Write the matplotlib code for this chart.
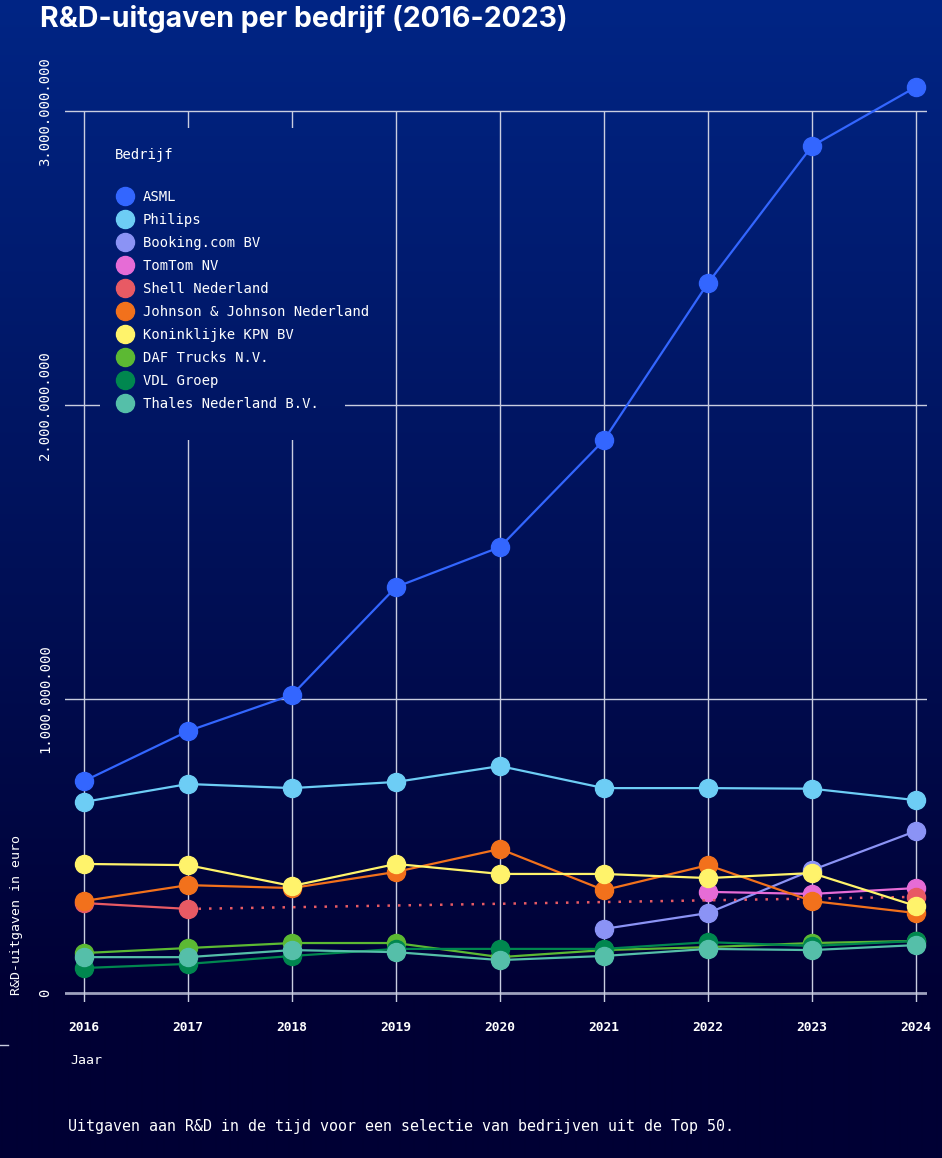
import matplotlib.pyplot as plt
import numpy as np
from matplotlib.lines import Line2D
from matplotlib.ticker import FuncFormatter

# Data (R&D spend in euro)
years = [2016, 2017, 2018, 2019, 2020, 2021, 2022, 2023, 2024]

asml = [0.721e9, 0.891e9, 1.014e9, 1.381e9, 1.517e9, 1.881e9, 2.415e9, 2.881e9, 3.082e9]
philips = [0.650e9, 0.711e9, 0.697e9, 0.718e9, 0.772e9, 0.697e9, 0.697e9, 0.695e9, 0.656e9]
booking = [None, None, None, None, None, 0.218e9, 0.272e9, 0.418e9, 0.551e9]
tomtom = [None, None, None, None, None, None, 0.344e9, 0.337e9, 0.357e9]
shell = [0.306e9, 0.286e9, None, None, None, None, None, None, 0.327e9]
jnj = [0.313e9, 0.367e9, 0.357e9, 0.412e9, 0.490e9, 0.350e9, 0.435e9, 0.313e9, 0.272e9]
kpn = [0.439e9, 0.435e9, 0.364e9, 0.439e9, 0.405e9, 0.405e9, 0.391e9, 0.408e9, 0.296e9]
daf = [0.136e9, 0.153e9, 0.170e9, 0.170e9, 0.122e9, 0.146e9, 0.156e9, 0.170e9, 0.177e9]
vdl = [0.085e9, 0.099e9, 0.126e9, 0.150e9, 0.150e9, 0.150e9, 0.173e9, 0.160e9, 0.177e9]
thales = [0.122e9, 0.122e9, 0.146e9, 0.139e9, 0.112e9, 0.126e9, 0.150e9, 0.146e9, 0.163e9]

companies = ["ASML", "Philips", "Booking.com BV", "TomTom NV", "Shell Nederland",
             "Johnson & Johnson Nederland", "Koninklijke KPN BV", "DAF Trucks N.V.",
             "VDL Groep", "Thales Nederland B.V."]
series = [asml, philips, booking, tomtom, shell, jnj, kpn, daf, vdl, thales]
colors = ["#3366ff", "#6dcdf5", "#8b93f5", "#e66cd6", "#e85a64",
          "#f2711c", "#fff36b", "#5cb933", "#00874f", "#55bfa9"]

yticks = [0, 1e9, 2e9, 3e9]

mono = "DejaVu Sans Mono"
W, H = 942, 1158
fig = plt.figure(figsize=(W / 100, H / 100), dpi=100)

# Gradient background
top = np.array([1, 37, 133]) / 255
bottom = np.array([0, 0, 52]) / 255
t = np.clip(np.linspace(0, 1, H) / (1000 / H), 0, 1)[:, None]
grad = top[None, :] * (1 - t) + bottom[None, :] * t
grad_img = np.repeat(grad[:, None, :], 2, axis=1)

bg = fig.add_axes([0, 0, 1, 1], zorder=-10)
bg.imshow(grad_img, aspect="auto", extent=[0, 1, 0, 1], interpolation="bilinear")
bg.axis("off")
bg.add_line(Line2D([0, 8 / W], [1 - 1045 / H, 1 - 1045 / H], color="#c9cde0", lw=1,
                   transform=bg.transAxes))

# Main axes
ax = fig.add_axes([65 / W, 1 - 1002 / H, (927 - 65) / W, (1002 - 67) / H])
ax.patch.set_alpha(0)
ax.set_xlim(2015.817, 2024.106)
ax.set_ylim(-0.0306e9, 3.15e9)
for s in ax.spines.values():
    s.set_visible(False)

grid_col = "#c9cde0"
for yv in yticks[1:]:
    ax.axhline(yv, color=grid_col, lw=1, zorder=0.5)
ax.axhline(0, color="#9ea1bd", lw=2, zorder=0.5)
ax.vlines(years, -0.0306e9, 3e9, color=grid_col, lw=1, zorder=0.5)

for i, (name, vals, col) in enumerate(zip(companies, series, colors)):
    x = [yr for yr, v in zip(years, vals) if v is not None]
    y = [v for v in vals if v is not None]
    if name == "Shell Nederland":
        ax.plot(x[:2], y[:2], color=col, lw=1.6, zorder=2 + i)
        ax.plot(x[1:], y[1:], color=col, lw=1.8, ls=(0, (1, 3.2)), zorder=2 + i)
        ax.plot(x, y, "o", color=col, ms=13, zorder=2 + i, clip_on=False)
    else:
        ax.plot(x, y, "-o", color=col, lw=1.6, ms=13, zorder=2 + i, clip_on=False)

ax.set_xticks(years)
ax.set_xticklabels([str(y) for y in years], fontfamily=mono, fontsize=9.3,
                   fontweight="bold", color="white")
ax.set_yticks(yticks)
ax.yaxis.set_major_formatter(FuncFormatter(lambda v, p: f"{int(v):,}".replace(",", ".")))
ax.tick_params(axis="x", length=0, pad=14)
ax.tick_params(axis="y", length=0, pad=9, labelrotation=90)
for lab in ax.get_yticklabels():
    lab.set_fontfamily(mono)
    lab.set_fontsize(10)
    lab.set_color("white")
    lab.set_va("center")

# Texts
fig.text(40 / W, 1 - 19 / H, "R&D-uitgaven per bedrijf (2016-2023)", color="white",
         fontsize=20.5, fontweight="bold", family="Inter", va="center", ha="left")
fig.text(17 / W, 1 - 995 / H, "R&D-uitgaven in euro", color="white", fontsize=9.5,
         family=mono, rotation=90, ha="center", va="bottom")
fig.text(70 / W, 1 - 1060 / H, "Jaar", color="white", fontsize=9.5, family=mono,
         va="center", ha="left")
fig.text(68 / W, 1 - 1127 / H,
         "Uitgaven aan R&D in de tijd voor een selectie van bedrijven uit de Top 50.",
         color="white", fontsize=10.8, family=mono, va="center", ha="left")

# Legend on its own patch of background so it hides the grid lines
lx0, lx1, ly0, ly1 = 100, 345, 128, 440
lax = fig.add_axes([lx0 / W, 1 - ly1 / H, (lx1 - lx0) / W, (ly1 - ly0) / H], zorder=5)
lax.imshow(grad_img[ly0:ly1], aspect="auto", extent=[0, 1, 0, 1], interpolation="bilinear")
lax.axis("off")
lax.text(15 / (lx1 - lx0), 1 - (155 - ly0) / (ly1 - ly0), "Bedrijf", color="white",
         family=mono, fontsize=10, va="center", ha="left", transform=lax.transAxes)
handles = [Line2D([], [], marker="o", ls="none", color=c, ms=13) for c in colors]
leg = lax.legend(handles, companies, loc="upper left",
                 bbox_to_anchor=(18 / (lx1 - lx0), 1 - (190 - ly0) / (ly1 - ly0)),
                 frameon=False, prop={"family": mono, "size": 10},
                 labelcolor="white", handlelength=1.0, handletextpad=0.8,
                 labelspacing=0.65, borderaxespad=0, borderpad=0)

fig.savefig("out.png", dpi=100)
